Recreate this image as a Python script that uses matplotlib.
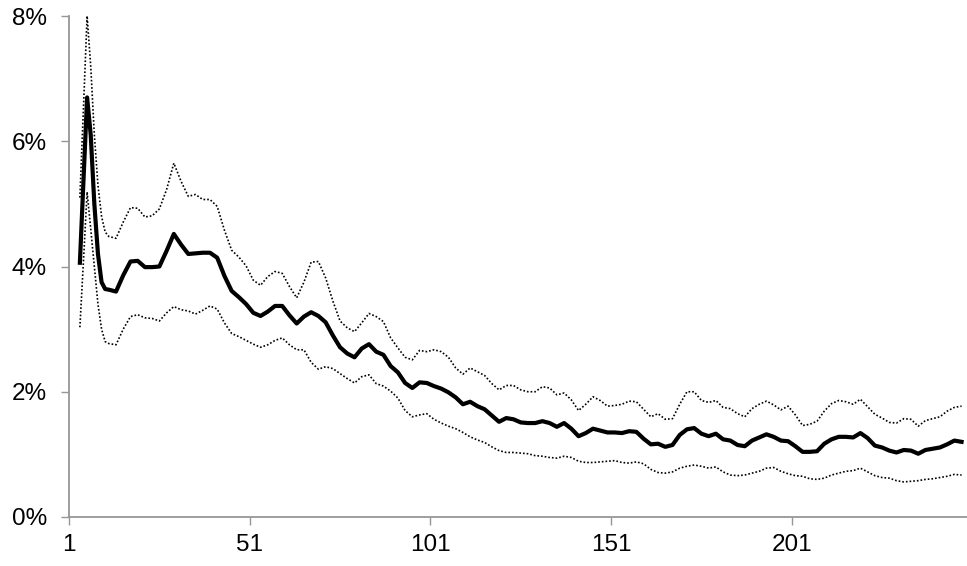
import numpy as np
import matplotlib
matplotlib.use("Agg")
import matplotlib.pyplot as plt
from matplotlib.ticker import FuncFormatter

plt.rcParams['font.family'] = ['Liberation Sans Narrow', 'Liberation Sans', 'DejaVu Sans']

# periods (every period at the start, then every second one)
periods = list(range(4, 12)) + list(range(12, 249, 2))

# average rate, %
avg = [4.06, 5.38, 6.70, 6.10, 5.00, 4.20, 3.75, 3.64,
       3.63, 3.60, 3.86, 4.08, 4.09, 3.99, 3.99, 4.00, 4.25, 4.52,
       4.35, 4.20, 4.21, 4.22, 4.22, 4.14, 3.85, 3.61, 3.51, 3.40,
       3.26, 3.21, 3.28, 3.37, 3.37, 3.22, 3.09, 3.20, 3.27, 3.21,
       3.11, 2.90, 2.71, 2.61, 2.55, 2.69, 2.76, 2.64, 2.59, 2.41,
       2.31, 2.14, 2.06, 2.15, 2.14, 2.09, 2.05, 1.99, 1.91, 1.80,
       1.84, 1.77, 1.72, 1.62, 1.52, 1.58, 1.56, 1.51, 1.50, 1.50,
       1.53, 1.50, 1.44, 1.50, 1.41, 1.29, 1.34, 1.41, 1.38, 1.35,
       1.35, 1.34, 1.37, 1.36, 1.25, 1.16, 1.17, 1.12, 1.15, 1.31,
       1.40, 1.42, 1.33, 1.29, 1.33, 1.24, 1.22, 1.15, 1.13, 1.22,
       1.27, 1.32, 1.28, 1.22, 1.21, 1.13, 1.04, 1.04, 1.05, 1.17,
       1.24, 1.28, 1.28, 1.27, 1.34, 1.26, 1.14, 1.11, 1.06, 1.03,
       1.07, 1.06, 1.01, 1.07, 1.09, 1.11, 1.16, 1.22, 1.20]

# upper band, %
upper = [5.10, 6.55, 8.00, 7.20, 6.10, 5.30, 4.80, 4.55,
         4.48, 4.45, 4.71, 4.94, 4.93, 4.79, 4.81, 4.92, 5.23, 5.65,
         5.36, 5.12, 5.15, 5.07, 5.07, 4.96, 4.58, 4.26, 4.15, 4.01,
         3.78, 3.70, 3.84, 3.92, 3.89, 3.68, 3.50, 3.75, 4.07, 4.08,
         3.82, 3.45, 3.13, 3.02, 2.96, 3.10, 3.25, 3.20, 3.12, 2.86,
         2.70, 2.55, 2.51, 2.66, 2.64, 2.67, 2.64, 2.55, 2.38, 2.28,
         2.38, 2.32, 2.26, 2.13, 2.03, 2.10, 2.10, 2.03, 2.00, 2.00,
         2.08, 2.06, 1.95, 1.98, 1.87, 1.70, 1.80, 1.92, 1.86, 1.77,
         1.78, 1.80, 1.85, 1.84, 1.72, 1.60, 1.65, 1.56, 1.57, 1.80,
         2.00, 2.00, 1.86, 1.83, 1.86, 1.75, 1.73, 1.65, 1.60, 1.73,
         1.80, 1.85, 1.79, 1.71, 1.77, 1.63, 1.46, 1.48, 1.53, 1.69,
         1.81, 1.86, 1.84, 1.80, 1.88, 1.76, 1.64, 1.58, 1.51, 1.50,
         1.57, 1.56, 1.45, 1.54, 1.57, 1.60, 1.69, 1.75, 1.77]

# lower band, %
lower = [3.03, 4.10, 5.19, 4.60, 4.00, 3.40, 3.00, 2.80,
         2.77, 2.75, 3.00, 3.20, 3.23, 3.18, 3.17, 3.13, 3.26, 3.36,
         3.31, 3.29, 3.24, 3.30, 3.37, 3.32, 3.10, 2.93, 2.88, 2.82,
         2.76, 2.71, 2.75, 2.82, 2.86, 2.75, 2.67, 2.67, 2.47, 2.36,
         2.40, 2.37, 2.29, 2.21, 2.14, 2.24, 2.27, 2.13, 2.09, 2.01,
         1.90, 1.70, 1.60, 1.63, 1.65, 1.56, 1.50, 1.45, 1.41, 1.35,
         1.28, 1.23, 1.19, 1.12, 1.06, 1.03, 1.03, 1.02, 1.01, 0.98,
         0.97, 0.95, 0.94, 0.97, 0.95, 0.89, 0.87, 0.87, 0.88, 0.89,
         0.90, 0.87, 0.86, 0.88, 0.85, 0.76, 0.71, 0.70, 0.72, 0.78,
         0.81, 0.83, 0.81, 0.78, 0.80, 0.72, 0.67, 0.66, 0.67, 0.70,
         0.73, 0.78, 0.79, 0.73, 0.69, 0.66, 0.65, 0.61, 0.60, 0.62,
         0.67, 0.70, 0.73, 0.74, 0.78, 0.72, 0.66, 0.63, 0.62, 0.58,
         0.56, 0.57, 0.58, 0.60, 0.61, 0.63, 0.65, 0.68, 0.67]

xticks = [1, 51, 101, 151, 201]
yticks = [0, 2, 4, 6, 8]

fig = plt.figure(figsize=(9.67, 5.66), dpi=100)
ax = fig.add_axes([0.0714, 0.0866, 0.9286, 0.8851])

ax.plot(periods, upper, color='black', linewidth=1.2, linestyle=(0, (1, 1.2)))
ax.plot(periods, lower, color='black', linewidth=1.2, linestyle=(0, (1, 1.2)))
ax.plot(periods, avg, color='black', linewidth=3.0, solid_joinstyle='round')

ax.set_xlim(1, 249.5)
ax.set_ylim(0, 8)
ax.set_xticks(xticks)
ax.set_yticks(yticks)
ax.yaxis.set_major_formatter(FuncFormatter(lambda v, p: '%d%%' % v))

grey = '#969696'
for side in ['top', 'right']:
    ax.spines[side].set_visible(False)
for side in ['left', 'bottom']:
    ax.spines[side].set_color(grey)
    ax.spines[side].set_linewidth(1.3)
ax.tick_params(axis='both', direction='out', length=6, width=1.0, color=grey,
               labelsize=17.5, labelcolor='black')
ax.tick_params(axis='x', pad=6)
ax.tick_params(axis='y', pad=10)

fig.savefig('out.png', dpi=100)
